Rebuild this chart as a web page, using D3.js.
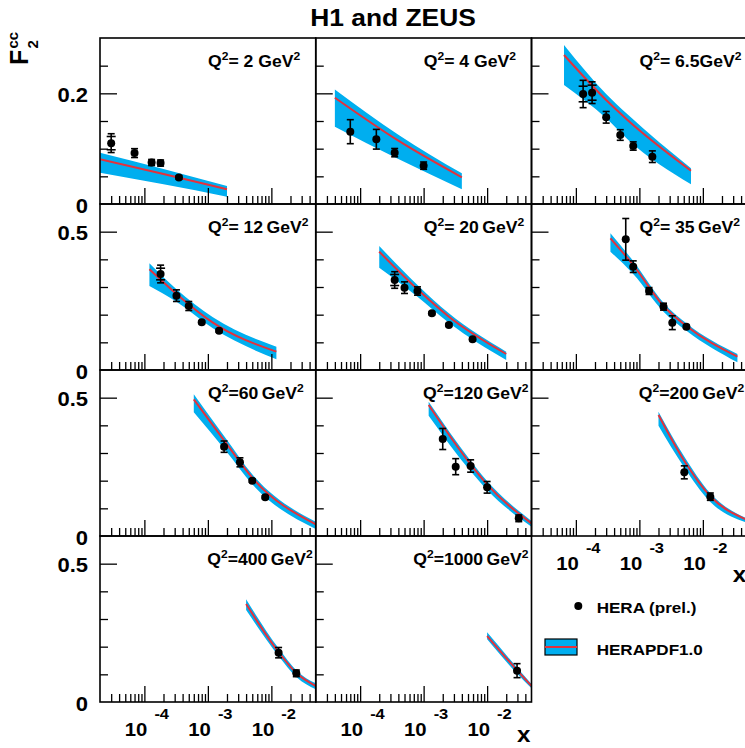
<!DOCTYPE html>
<html>
<head>
<meta charset="utf-8">
<script src="https://cdn.jsdelivr.net/npm/d3@7"></script>
<style>
  body { margin: 0; background: #fff; }
  svg { display: block; }
  text { font-family: "Liberation Sans", Arial, Helvetica, sans-serif; font-weight: bold; fill: #000; }
</style>
</head>
<body>
<svg id="chart" width="745" height="748"></svg>
<script>
// ---- data -------------------------------------------------------------
const q2Values = [2, 4, 6.5, 12, 20, 35, 60, 120, 200, 400, 1000];
const q2Text = ["= 2 GeV", "= 4 GeV", "= 6.5GeV", "= 12\u2009GeV", "= 20\u2009GeV", "= 35\u2009GeV",
                "=60\u2009GeV", "=120\u2009GeV", "=200\u2009GeV", "=400\u2009GeV", "=1000\u2009GeV"];

// HERA combined charm measurements: x, F2cc, total error, statistical error (0 = not shown)
const dataX = [
  [3.0e-5, 7.0e-5, 1.3e-4, 1.8e-4, 3.5e-4],
  [7.0e-5, 1.8e-4, 3.5e-4, 1.0e-3],
  [1.3e-4, 1.8e-4, 3.0e-4, 5.0e-4, 8.0e-4, 1.6e-3],
  [1.8e-4, 3.2e-4, 5.0e-4, 8.0e-4, 1.5e-3],
  [3.5e-4, 5.0e-4, 8.0e-4, 1.35e-3, 2.5e-3, 5.9e-3],
  [6.1e-4, 8.0e-4, 1.42e-3, 2.4e-3, 3.3e-3, 5.5e-3],
  [1.8e-3, 3.2e-3, 5.0e-3, 8.0e-3],
  [2.0e-3, 3.2e-3, 5.5e-3, 1.0e-2, 3.15e-2],
  [5.1e-3, 1.31e-2],
  [1.3e-2, 2.47e-2],
  [2.96e-2]
];
const dataY = [
  [0.110, 0.092, 0.075, 0.074, 0.048],
  [0.1307, 0.117, 0.0928, 0.0693],
  [0.1988, 0.2012, 0.1567, 0.1247, 0.1048, 0.0855],
  [0.347, 0.2687, 0.2313, 0.1723, 0.1422],
  [0.3253, 0.2976, 0.2855, 0.2048, 0.1627, 0.1108],
  [0.4723, 0.3735, 0.2855, 0.2289, 0.171, 0.1566],
  [0.3229, 0.2663, 0.200, 0.1398],
  [0.3506, 0.2506, 0.253, 0.176, 0.0639],
  [0.2301, 0.1422],
  [0.1783, 0.1036],
  [0.1133]
];
const dataErr = [
  [0.017, 0.008, 0.0055, 0.0055, 0.003],
  [0.0217, 0.0178, 0.0075, 0.0066],
  [0.0247, 0.0196, 0.0105, 0.0096, 0.0075, 0.0105],
  [0.032, 0.021, 0.0163, 0.005, 0.005],
  [0.030, 0.021, 0.015, 0.005, 0.005, 0.005],
  [0.0753, 0.021, 0.0125, 0.0125, 0.025, 0.005],
  [0.0205, 0.0163, 0.006, 0.005],
  [0.038, 0.029, 0.0223, 0.021, 0.012],
  [0.0235, 0.0133],
  [0.0187, 0.012],
  [0.0253]
];
const dataStat = [
  [0.012, 0, 0, 0, 0],
  [0, 0, 0, 0],
  [0.0141, 0.0136, 0, 0, 0, 0],
  [0.021, 0, 0, 0, 0],
  [0.020, 0, 0, 0, 0, 0],
  [0, 0, 0, 0, 0, 0],
  [0, 0, 0, 0],
  [0, 0, 0, 0, 0],
  [0, 0],
  [0, 0],
  [0]
];

// HERAPDF1.0 prediction: x nodes with lower edge, central value, upper edge
const bandX = [
  [2e-5, 2e-4, 2e-3],
  [4e-5, 4e-4, 4e-3],
  [6.5e-5, 3e-4, 6.5e-4, 6.5e-3],
  [1.2e-4, 3.2e-4, 1.2e-3, 1.2e-2],
  [2e-4, 8e-4, 2.5e-3, 2e-2],
  [3.5e-4, 8e-4, 2.4e-3, 5.5e-3, 3.5e-2],
  [6e-4, 2e-3, 5e-3, 5e-2],
  [1.2e-3, 5.5e-3, 1e-2, 5e-2],
  [2e-3, 5e-3, 1.3e-2, 5e-2],
  [4e-3, 1.3e-2, 2.5e-2, 5e-2],
  [1e-2, 3e-2, 5e-2]
];
const bandLo = [
  [0.0566, 0.0356, 0.0133],
  [0.1398, 0.0813, 0.0265],
  [0.2151, 0.1549, 0.117, 0.0355],
  [0.3036, 0.2470, 0.1506, 0.0386],
  [0.3699, 0.2651, 0.171, 0.0361],
  [0.4277, 0.347, 0.2108, 0.142, 0.0277],
  [0.447, 0.3024, 0.1867, 0.0253],
  [0.4349, 0.2337, 0.1663, 0.0337],
  [0.3988, 0.2506, 0.1241, 0.0482],
  [0.3325, 0.1663, 0.0892, 0.0458],
  [0.2265, 0.1012, 0.0494]
];
const bandMid = [
  [0.0807, 0.0542, 0.0265],
  [0.192, 0.1144, 0.0482],
  [0.2693, 0.188, 0.152, 0.0602],
  [0.364, 0.2747, 0.171, 0.0663],
  [0.4277, 0.2916, 0.1928, 0.0578],
  [0.476, 0.3795, 0.2313, 0.159, 0.0482],
  [0.494, 0.3313, 0.2108, 0.0422],
  [0.4735, 0.2591, 0.1867, 0.0458],
  [0.4373, 0.2747, 0.1446, 0.0578],
  [0.3542, 0.1807, 0.1036, 0.0578],
  [0.2385, 0.1133, 0.0578]
];
const bandHi = [
  [0.0928, 0.0633, 0.0325],
  [0.207, 0.1253, 0.0554],
  [0.2874, 0.1988, 0.162, 0.0645],
  [0.3856, 0.2916, 0.1904, 0.0843],
  [0.4482, 0.3072, 0.2048, 0.0663],
  [0.494, 0.394, 0.2434, 0.1687, 0.0578],
  [0.5122, 0.347, 0.2229, 0.0518],
  [0.4855, 0.2723, 0.1988, 0.0542],
  [0.4494, 0.2903, 0.1554, 0.0627],
  [0.3711, 0.194, 0.1133, 0.0675],
  [0.2518, 0.1229, 0.0651]
];

// axis settings
const xDomain = [2e-5, 0.05];
const xMajor = [1e-4, 1e-3, 1e-2];
const xMajorExp = ["-4", "-3", "-2"];
const rowYMax = [0.3, 0.6, 0.6, 0.6];
const rowYMinor = [[0.05, 0.1, 0.15, 0.25], [0.1, 0.2, 0.3, 0.4], [0.1, 0.2, 0.3, 0.4], [0.1, 0.2, 0.3, 0.4]];
const rowYMajor = [0.2, 0.5, 0.5, 0.5];
const rowYMajorLabel = ["0.2", "0.5", "0.5", "0.5"];

// ---- layout -----------------------------------------------------------
const left0 = 100, top0 = 38, colW = 215.75, rowH = 166;
const TX = 1.1;                // horizontal stretch of the lettering
const bandColor = "#00aeef";
const lineColor = "#e4313c";

const svg = d3.select("#chart");
const x = d3.scaleLog().domain(xDomain).range([0, colW]);
const xMinor = [];
for (let d = -5; d <= -2; d++) for (let m = 2; m <= 9; m++) {
  const v = m * Math.pow(10, d);
  if (v > xDomain[0] * 1.01 && v < xDomain[1] * 0.99) xMinor.push(v);
}
const yScales = rowYMax.map(m => d3.scaleLinear().domain([0, m]).range([rowH, 0]));

function stretchedText(parent, px, py, size, anchor) {
  return parent.append("text")
    .attr("transform", `translate(${px},${py}) scale(${TX},1)`)
    .attr("font-size", size)
    .attr("text-anchor", anchor || "start");
}

const defs = svg.append("defs");
defs.append("clipPath").attr("id", "panelClip")
  .append("rect").attr("x", 0).attr("y", 0).attr("width", colW).attr("height", rowH);

// ---- panels -----------------------------------------------------------
q2Values.forEach((q2, i) => {
  const col = i % 3, row = Math.floor(i / 3);
  const gx = left0 + col * colW, gy = top0 + row * rowH;
  const y = yScales[row];
  const g = svg.append("g").attr("transform", `translate(${gx},${gy})`);

  const nodes = bandX[i].map((bx, k) => ({ x: bx, lo: bandLo[i][k], mid: bandMid[i][k], hi: bandHi[i][k] }));
  const plot = g.append("g").attr("clip-path", "url(#panelClip)");
  plot.append("path").datum(nodes)
    .attr("fill", bandColor)
    .attr("d", d3.area().x(d => x(d.x)).y0(d => y(d.lo)).y1(d => y(d.hi)).curve(d3.curveMonotoneX));
  plot.append("path").datum(nodes)
    .attr("fill", "none").attr("stroke", lineColor).attr("stroke-width", 2)
    .attr("d", d3.line().x(d => x(d.x)).y(d => y(d.mid)).curve(d3.curveMonotoneX));

  // measurements
  const pts = dataX[i].map((dx, k) => ({ x: dx, y: dataY[i][k], e: dataErr[i][k], s: dataStat[i][k] }));
  const pg = g.append("g").selectAll("g").data(pts).join("g")
    .attr("transform", d => `translate(${x(d.x)},0)`);
  pg.append("line").attr("x1", 0).attr("x2", 0)
    .attr("y1", d => y(d.y - d.e)).attr("y2", d => y(d.y + d.e))
    .attr("stroke", "#000").attr("stroke-width", 1.6);
  [-1, 1].forEach(sgn => {
    pg.append("line").attr("x1", -3.5).attr("x2", 3.5)
      .attr("y1", d => y(d.y + sgn * d.e)).attr("y2", d => y(d.y + sgn * d.e))
      .attr("stroke", "#000").attr("stroke-width", 1.6);
    pg.filter(d => d.s > 0).append("line").attr("x1", -4.5).attr("x2", 4.5)
      .attr("y1", d => y(d.y + sgn * d.s)).attr("y2", d => y(d.y + sgn * d.s))
      .attr("stroke", "#000").attr("stroke-width", 1.6);
  });
  pg.append("circle").attr("cx", 0).attr("cy", d => y(d.y)).attr("r", 4).attr("fill", "#000");

  // axes: ticks point into the frame
  const bottomMinor = g.append("g").attr("transform", `translate(0,${rowH})`)
    .call(d3.axisBottom(x).tickValues(xMinor).tickSize(-8).tickFormat(""));
  const bottomMajor = g.append("g").attr("transform", `translate(0,${rowH})`)
    .call(d3.axisBottom(x).tickValues(xMajor).tickSize(-16).tickFormat(""));
  const leftMinor = g.append("g")
    .call(d3.axisLeft(y).tickValues(rowYMinor[row]).tickSize(-8).tickFormat(""));
  const leftMajor = g.append("g")
    .call(d3.axisLeft(y).tickValues([rowYMajor[row]]).tickSize(-17).tickFormat(""));
  [bottomMinor, bottomMajor, leftMinor, leftMajor].forEach(a => {
    a.select(".domain").remove();
    a.selectAll(".tick line").attr("stroke", "#000").attr("stroke-width", 1.3);
  });

  g.append("rect").attr("x", 0).attr("y", 0).attr("width", colW).attr("height", rowH)
    .attr("fill", "none").attr("stroke", "#000").attr("stroke-width", 1.6);

  // Q^2 label
  const lab = stretchedText(g, 108, 28.5, 16);
  lab.append("tspan").text("Q");
  lab.append("tspan").attr("font-size", 11).attr("dy", -7).text("2");
  lab.append("tspan").attr("dy", 7).text(q2Text[i]);
  lab.append("tspan").attr("font-size", 11).attr("dy", -7).text("2");
  const w = lab.node().getBBox().width * TX;
  const lx = Math.min(108, colW - 3 - w);
  lab.attr("transform", `translate(${lx},28.5) scale(${TX},1)`);
});

// ---- y tick labels ----------------------------------------------------
rowYMax.forEach((m, row) => {
  const y = yScales[row];
  const gy = top0 + row * rowH;
  stretchedText(svg, 88, gy + y(rowYMajor[row]) + 8.5, 20, "end").text(rowYMajorLabel[row]);
  stretchedText(svg, 88, gy + y(0) + 8.5, 20, "end").text("0");
});

// ---- x tick labels (below the lowest panel of each column) -----------
const bottomRowOfCol = [3, 3, 2];
const colHasTitle = [false, true, true];
bottomRowOfCol.forEach((row, col) => {
  const gx = left0 + col * colW;
  const base = top0 + (row + 1) * rowH;
  xMajor.forEach((v, k) => {
    const tx = gx + x(v);
    stretchedText(svg, tx + 3, base + 33.5, 18.5, "end").text("10");
    stretchedText(svg, tx + 10, base + 16.5, 15).text(xMajorExp[k]);
  });
  if (colHasTitle[col]) {
    stretchedText(svg, gx + colW - 1, Math.min(base + 46, 742), 22, "end").text("x");
  }
});

// ---- y axis title -----------------------------------------------------
const yt = svg.append("g").attr("transform", "translate(28,65) rotate(-90)");
yt.append("text").attr("font-size", 25).text("F");
yt.append("text").attr("x", 16.5).attr("y", -10).attr("font-size", 15).text("cc");
yt.append("text").attr("x", 16.5).attr("y", 10).attr("font-size", 15).text("2");

// ---- title ------------------------------------------------------------
stretchedText(svg, 393, 26, 24, "middle").text("H1 and ZEUS");

// ---- legend -----------------------------------------------------------
const leg = svg.append("g");
leg.append("circle").attr("cx", 578.3).attr("cy", 606).attr("r", 4).attr("fill", "#000");
stretchedText(leg, 596.7, 612.5, 15.5).text("HERA (prel.)");
leg.append("rect").attr("x", 545).attr("y", 639).attr("width", 32).attr("height", 16)
  .attr("fill", bandColor).attr("stroke", "#000").attr("stroke-width", 1.2);
leg.append("line").attr("x1", 545).attr("x2", 577).attr("y1", 647).attr("y2", 647)
  .attr("stroke", lineColor).attr("stroke-width", 2);
stretchedText(leg, 596.7, 654.5, 15.5).text("HERAPDF1.0");
</script>
</body>
</html>
